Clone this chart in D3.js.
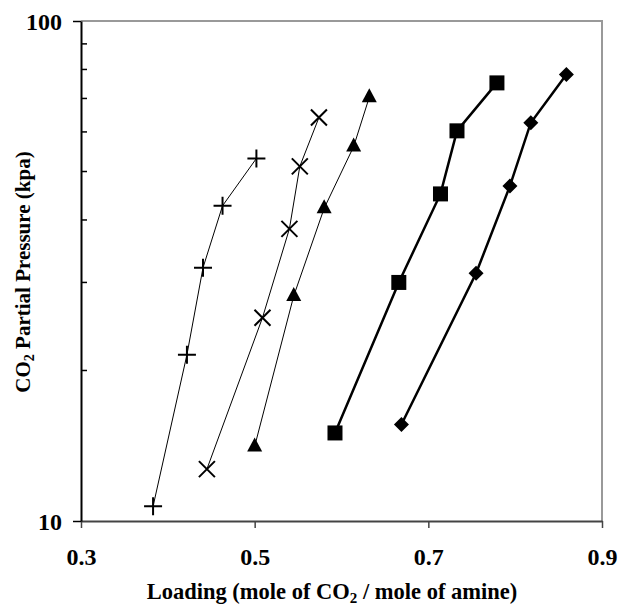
<!DOCTYPE html>
<html><head><meta charset="utf-8">
<script src="https://cdn.jsdelivr.net/npm/d3@7"></script>
<style>body{margin:0;background:#fff}svg{display:block}text{font-family:"Liberation Serif","Times New Roman",serif;font-weight:bold}</style>
</head><body><div id="chart"></div>
<script>
const plusX = [0.383, 0.422, 0.4405, 0.463, 0.502];
const plusY = [10.7, 21.5, 32.1, 42.7, 53.1];
const crossX = [0.445, 0.509, 0.540, 0.552, 0.574];
const crossY = [12.7, 25.5, 38.4, 51.2, 64.1];
const triX = [0.500, 0.545, 0.580, 0.614, 0.632];
const triY = [14.1, 28.2, 42.2, 56.1, 70.4];
const sqX = [0.5925, 0.666, 0.714, 0.733, 0.779];
const sqY = [15.0, 30.0, 45.1, 60.3, 75.2];
const diaX = [0.669, 0.755, 0.794, 0.818, 0.859];
const diaY = [15.6, 31.3, 46.8, 62.6, 78.2];
const xTicks = [0.3, 0.5, 0.7, 0.9];
const yTicks = [10, 100];
const yMinor = [20, 30, 40, 50, 60, 70, 80, 90];

const W = 618, H = 605;
const m = {l: 81, r: 16, t: 21, b: 84};
const svg = d3.select("#chart").append("svg").attr("width", W).attr("height", H);
const x = d3.scaleLinear().domain([0.3, 0.9]).range([m.l, W - m.r]);
const y = d3.scaleLog().domain([10, 100]).range([H - m.b, m.t]);

// frame top/right
svg.append("line").attr("x1", x(0.3)).attr("x2", x(0.9)+1).attr("y1", y(100)).attr("y2", y(100)).attr("stroke", "#999").attr("stroke-width", 2);
svg.append("line").attr("x1", x(0.9)).attr("x2", x(0.9)).attr("y1", y(100)).attr("y2", y(10)).attr("stroke", "#999").attr("stroke-width", 2);

// x axis
const xa = svg.append("g").attr("transform", `translate(0,${y(10)})`)
  .call(d3.axisBottom(x).tickValues(xTicks).tickFormat(d3.format(".1f")).tickSizeInner(7).tickSizeOuter(0));
xa.select(".domain").attr("stroke", "#444").attr("stroke-width", 2);
xa.selectAll(".tick line").attr("stroke", "#444").attr("stroke-width", 1.5);
xa.selectAll("text").attr("y", 44).attr("dy", 0).attr("fill", "#000")
  .style("font-size", "24px").style("font-family", "Liberation Serif").style("font-weight", "bold");

// y axis
const ya = svg.append("g").attr("transform", `translate(${x(0.3)},0)`)
  .call(d3.axisLeft(y).tickValues(yTicks).tickFormat(d3.format("d")).tickSizeInner(8).tickSizeOuter(0));
ya.select(".domain").attr("stroke", "#000").attr("stroke-width", 2);
ya.selectAll(".tick line").attr("stroke", "#000").attr("stroke-width", 1.5);
ya.selectAll("text").attr("x", -19).attr("y", 8).attr("dy", 0).attr("fill", "#000")
  .style("font-size", "24px").style("font-family", "Liberation Serif").style("font-weight", "bold");
ya.selectAll(".minor").data(yMinor).enter().append("line")
  .attr("x1", 0).attr("x2", 6).attr("y1", d => y(d)).attr("y2", d => y(d))
  .attr("stroke", "#000").attr("stroke-width", 1.5);

function series(xs, ys, lw) {
  const pts = xs.map((v, i) => [x(v), y(ys[i])]);
  svg.append("path").attr("d", d3.line()(pts)).attr("fill", "none").attr("stroke", "#000").attr("stroke-width", lw);
  return pts;
}
const pPlus = series(plusX, plusY, 1);
const pCross = series(crossX, crossY, 1);
const pTri = series(triX, triY, 1);
const pSq = series(sqX, sqY, 2.5);
const pDia = series(diaX, diaY, 2.5);

svg.selectAll(".plus").data(pPlus).enter().append("path")
  .attr("d", d => `M${d[0]-9},${d[1]}H${d[0]+9}M${d[0]},${d[1]-9}V${d[1]+9}`)
  .attr("stroke", "#000").attr("stroke-width", 2);
svg.selectAll(".cross").data(pCross).enter().append("path")
  .attr("d", d => `M${d[0]-8},${d[1]-8}L${d[0]+8},${d[1]+8}M${d[0]-8},${d[1]+8}L${d[0]+8},${d[1]-8}`)
  .attr("stroke", "#000").attr("stroke-width", 2);
svg.selectAll(".tri").data(pTri).enter().append("path")
  .attr("d", d => `M${d[0]},${d[1]-9}L${d[0]+7.5},${d[1]+5}L${d[0]-7.5},${d[1]+5}Z`)
  .attr("fill", "#000");
svg.selectAll(".sq").data(pSq).enter().append("rect")
  .attr("x", d => d[0]-7.5).attr("y", d => d[1]-7.5).attr("width", 15).attr("height", 15).attr("fill", "#000");
svg.selectAll(".dia").data(pDia).enter().append("path")
  .attr("d", d => `M${d[0]},${d[1]-7.5}L${d[0]+7.5},${d[1]}L${d[0]},${d[1]+7.5}L${d[0]-7.5},${d[1]}Z`)
  .attr("fill", "#000");

// titles
const xt = svg.append("text").attr("x", 332).attr("y", 599).attr("text-anchor", "middle").style("font-size", "22.5px");
xt.append("tspan").text("Loading (mole of CO");
xt.append("tspan").text("2").style("font-size", "15px").attr("dy", 4);
xt.append("tspan").text(" / mole of amine)").attr("dy", -4);

const yt = svg.append("text").attr("transform", "translate(30,272) rotate(-90)").attr("text-anchor", "middle").style("font-size", "21px");
yt.append("tspan").text("CO");
yt.append("tspan").text("2").style("font-size", "14px").attr("dy", 4);
yt.append("tspan").text(" Partial Pressure (kpa)").attr("dy", -4);
</script></body></html>
